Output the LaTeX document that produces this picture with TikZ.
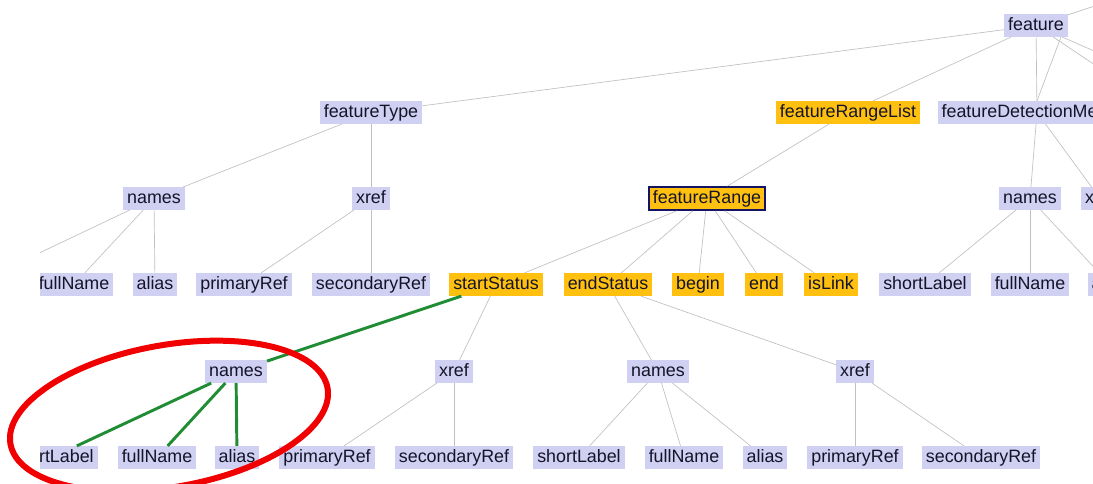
\documentclass[tikz,border=0pt]{standalone}
\usepackage{fontspec}
\setmainfont{Liberation Sans}
\definecolor{lav}{RGB}{208,208,242}
\definecolor{gold}{RGB}{255,192,16}
\definecolor{navy}{RGB}{20,20,100}
\definecolor{edgegray}{RGB}{192,192,192}
\definecolor{hilite}{RGB}{32,140,52}
\definecolor{ring}{RGB}{240,0,0}
\definecolor{ink}{RGB}{20,20,40}

\begin{document}
\begin{tikzpicture}[x=0.75pt, y=-0.75pt,
    elem/.style={fill=lav, text=ink, font=\fontsize{13.4pt}{15pt}\selectfont,
      inner xsep=3pt, inner ysep=0pt, minimum height=17pt,
      text height=9.8pt, text depth=2.8pt},
    picked/.style={elem, fill=gold},
    link/.style={draw=edgegray, line width=0.5pt},
    hot/.style={draw=hilite, line width=2.2pt}]
    \useasboundingbox (0,0) rectangle (1093,484);
    \begin{scope}[shift={(0,1.5)}]
    \clip (40,-1.5) rectangle (1093,482.5);
    % top
    \node [elem] (feature) at (1036,24) {feature};
    \coordinate (up) at (1150,-14);
    \coordinate (sib1) at (1166,111);
    \coordinate (sib2) at (1234,111);
    % level 1
    \node [elem] (ftype) at (371,111) {featureType};
    \node [picked] (frlist) at (848,111) {featureRangeList};
    \node [elem] (fdm) at (1037,111) {featureDetectionMethod};
    % level 2
    \node [elem] (ftnames) at (154,197) {names};
    \node [elem] (ftxref) at (371,197) {xref};
    \node [picked, draw=navy, line width=1.5pt] (frange) at (707,197) {featureRange};
    \node [elem] (fdmnames) at (1030,197) {names};
    \node [elem] (fdmxref) at (1100,197) {xref};
    % level 3
    \coordinate (ftshort) at (-27,283);
    \node [elem] (ftfull) at (74,283) {fullName};
    \node [elem] (ftalias) at (155,283) {alias};
    \node [elem] (ftpri) at (244,283) {primaryRef};
    \node [elem] (ftsec) at (371,283) {secondaryRef};
    \node [picked] (sstat) at (496,283) {startStatus};
    \node [picked] (estat) at (608,283) {endStatus};
    \node [picked] (rbegin) at (698,283) {begin};
    \node [picked] (rend) at (764,283) {end};
    \node [picked] (rlink) at (831,283) {isLink};
    \node [elem] (fdmshort) at (925,283) {shortLabel};
    \node [elem] (fdmfull) at (1030,283) {fullName};
    \node [elem] (fdmalias) at (1110,283) {alias};
    % level 4
    \node [elem] (ssnames) at (236,370) {names};
    \node [elem] (ssxref) at (454,370) {xref};
    \node [elem] (esnames) at (658,370) {names};
    \node [elem] (esxref) at (855,370) {xref};
    % level 5
    \node [elem] (ssshort) at (52,456) {shortLabel};
    \node [elem] (ssfull) at (157,456) {fullName};
    \node [elem] (ssalias) at (237,456) {alias};
    \node [elem] (sspri) at (327,456) {primaryRef};
    \node [elem] (sssec) at (454,456) {secondaryRef};
    \node [elem] (esshort) at (579,456) {shortLabel};
    \node [elem] (esfull) at (684,456) {fullName};
    \node [elem] (esalias) at (765,456) {alias};
    \node [elem] (espri) at (855,456) {primaryRef};
    \node [elem] (essec) at (981,456) {secondaryRef};
    % grey links
    \draw [link] (feature) -- (up);
    \draw [link] (feature) -- (sib1);
    \draw [link] (feature) -- (sib2);
    \draw [link] (feature) -- (ftype);
    \draw [link] (feature) -- (frlist);
    \draw [link] (feature) -- (fdm);
    \draw [link] (feature.-25) -- (fdm.north);
    \draw [link] (ftype) -- (ftnames);
    \draw [link] (ftype) -- (ftxref);
    \draw [link] (frlist) -- (frange);
    \draw [link] (fdm) -- (fdmnames);
    \draw [link] (fdm) -- (fdmxref);
    \draw [link] (ftnames) -- (ftshort);
    \draw [link] (ftnames) -- (ftfull);
    \draw [link] (ftnames) -- (ftalias);
    \draw [link] (ftxref) -- (ftpri);
    \draw [link] (ftxref) -- (ftsec);
    \draw [link] (frange) -- (sstat);
    \draw [link] (frange) -- (estat);
    \draw [link] (frange) -- (rbegin);
    \draw [link] (frange) -- (rend);
    \draw [link] (frange) -- (rlink);
    \draw [link] (fdmnames) -- (fdmshort);
    \draw [link] (fdmnames) -- (fdmfull);
    \draw [link] (fdmnames) -- (fdmalias);
    \draw [link] (sstat) -- (ssxref);
    \draw [link] (estat) -- (esnames);
    \draw [link] (estat) -- (esxref);
    \draw [link] (ssxref) -- (sspri);
    \draw [link] (ssxref) -- (sssec);
    \draw [link] (esnames) -- (esshort);
    \draw [link] (esnames) -- (esfull);
    \draw [link] (esnames) -- (esalias);
    \draw [link] (esxref) -- (espri);
    \draw [link] (esxref) -- (essec);
    % highlighted branch
    \draw [hot] (sstat) -- (ssnames);
    \draw [hot] (ssnames) -- (ssshort);
    \draw [hot] (ssnames) -- (ssfull);
    \draw [hot] (ssnames) -- (ssalias);
    \end{scope}
    \draw [ring, line width=4.5pt, rotate around={10:(169,416)}] (169,416) ellipse [x radius=161, y radius=71];
\end{tikzpicture}
\end{document}
